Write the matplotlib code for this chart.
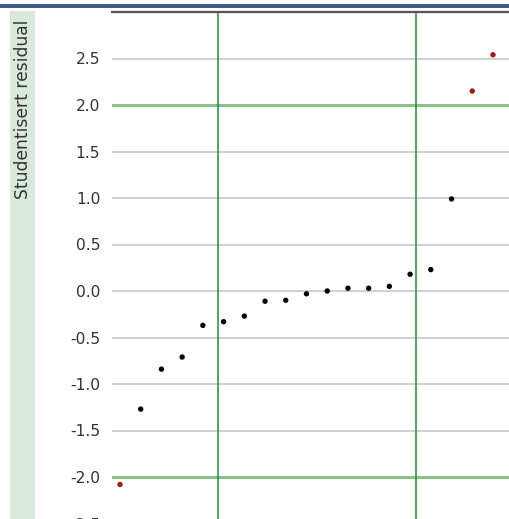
import matplotlib
matplotlib.use("Agg")
import matplotlib.pyplot as plt
from matplotlib.patches import Rectangle

# Data
obs_rank = list(range(1, 20))
residuals = [-2.08, -1.27, -0.84, -0.71, -0.37, -0.33, -0.27, -0.11, -0.10,
             -0.03, 0.00, 0.03, 0.03, 0.05, 0.18, 0.23, 0.99, 2.15, 2.54]
y_ticks = [-2.5, -2.0, -1.5, -1.0, -0.5, 0.0, 0.5, 1.0, 1.5, 2.0, 2.5]
y_ticklabels = ["-2.5", "-2.0", "-1.5", "-1.0", "-0.5", "0.0", "0.5", "1.0", "1.5", "2.0", "2.5"]
threshold = 2.0
v_lines = [5.73, 15.27]
y_label = "Studentisert residual"

W, H = 510, 519
fig = plt.figure(figsize=(W / 100, H / 100), dpi=100)
fig.patch.set_facecolor("white")

def fx(px):
    return px / W

def fy(py):
    return 1 - py / H

# decorations
fig.patches.append(Rectangle((0, fy(7.5)), 1, 3.5 / H, transform=fig.transFigure,
                             facecolor="#3F5A86", edgecolor="none", zorder=0))
fig.patches.append(Rectangle((fx(10), 0), 25 / W, fy(11), transform=fig.transFigure,
                             facecolor="#D9EADB", edgecolor="none", zorder=0))

# axes: top at pixel 12 (y=3.0), 93 px per unit
top_px = 12
ymax, ymin = 3.0, -3.0
bot_px = top_px + (ymax - ymin) * 93
left_px = 112
right_px = 512
ax = fig.add_axes([fx(left_px), fy(bot_px), (right_px - left_px) / W, (bot_px - top_px) / H])
ax.set_ylim(ymin, ymax)
x0 = 1 - (120 - left_px) / 20.72
x1 = 1 + (right_px - 120) / 20.72
ax.set_xlim(x0, x1)

for s in ["left", "right", "bottom"]:
    ax.spines[s].set_visible(False)
ax.spines["top"].set_color("#555555")
ax.spines["top"].set_linewidth(1.6)

ax.set_xticks([])
ax.set_yticks(y_ticks)
ax.set_yticklabels(y_ticklabels)
ax.tick_params(axis="y", length=0, pad=8.5, labelsize=11.2, labelcolor="#333333")

for t in y_ticks:
    if abs(abs(t) - threshold) < 1e-9:
        ax.axhline(t, color="#8CBF8C", lw=2.2, zorder=1)
    else:
        ax.axhline(t, color="#C4C4C4", lw=1.1, zorder=1)
for v in v_lines:
    ax.axvline(v, color="#1E8C3A", lw=1.1, zorder=1)

colors = ["#9B1C1C" if abs(r) > threshold else "#000000" for r in residuals]
ax.scatter(obs_rank, residuals, s=15, c=colors, edgecolors="none", zorder=3)

fig.text(fx(23.5), fy(20), y_label, rotation=90, ha="center", va="top",
         fontsize=12.3, color="#333333")

fig.savefig("out.png", dpi=100)
